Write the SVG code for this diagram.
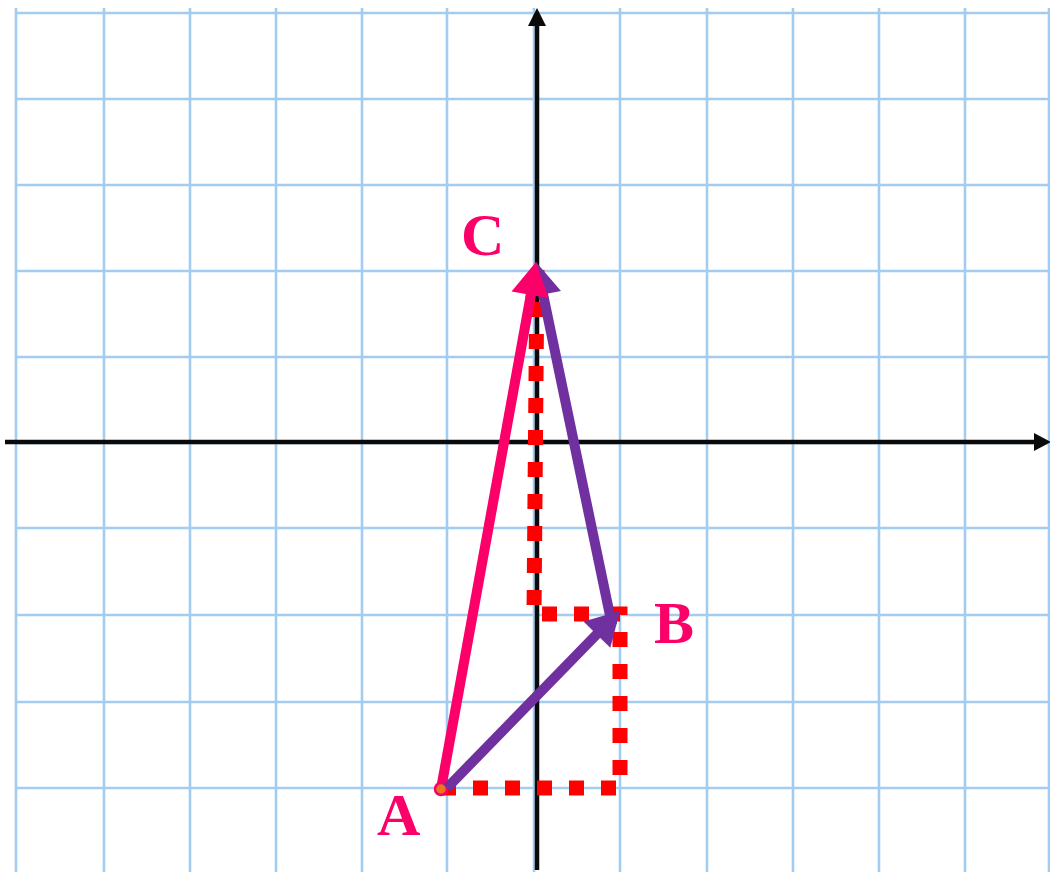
<svg xmlns="http://www.w3.org/2000/svg" width="1050" height="872" viewBox="0 0 1050 872">
  <style>
    .grid line { stroke: #a3ccf1; stroke-width: 2.6; }
    .axis { stroke: #0a0a0a; stroke-width: 4.5; fill: none; }
    .axhead { fill: #0a0a0a; }
    .dots { stroke: #ff0000; stroke-width: 15; fill: none; stroke-dasharray: 15 17; stroke-linecap: butt; stroke-linejoin: miter; }
    .pink { stroke: #fc006a; stroke-width: 10; fill: none; }
    .pinkhead { fill: #fc006a; }
    .purple { stroke: #7030a0; stroke-width: 10; fill: none; }
    .purplehead { fill: #7030a0; }
    .label { font-family: "Liberation Serif", "Times New Roman", serif; font-weight: bold; font-size: 60px; fill: #fc006a; }
  </style>
  <rect x="0" y="0" width="1050" height="872" fill="#ffffff"/>
  <g id="grid" class="grid">
    <line x1="16" y1="8" x2="16" y2="872"/>
    <line x1="104" y1="8" x2="104" y2="872"/>
    <line x1="190" y1="8" x2="190" y2="872"/>
    <line x1="276" y1="8" x2="276" y2="872"/>
    <line x1="362" y1="8" x2="362" y2="872"/>
    <line x1="447" y1="8" x2="447" y2="872"/>
    <line x1="534" y1="8" x2="534" y2="872"/>
    <line x1="620" y1="8" x2="620" y2="872"/>
    <line x1="707" y1="8" x2="707" y2="872"/>
    <line x1="793" y1="8" x2="793" y2="872"/>
    <line x1="879" y1="8" x2="879" y2="872"/>
    <line x1="965" y1="8" x2="965" y2="872"/>
    <line x1="1049" y1="8" x2="1049" y2="872"/>
    <line x1="16" y1="13" x2="1050" y2="13"/>
    <line x1="16" y1="99" x2="1050" y2="99"/>
    <line x1="16" y1="185" x2="1050" y2="185"/>
    <line x1="16" y1="271" x2="1050" y2="271"/>
    <line x1="16" y1="357" x2="1050" y2="357"/>
    <line x1="16" y1="443" x2="1050" y2="443"/>
    <line x1="16" y1="528" x2="1050" y2="528"/>
    <line x1="16" y1="615" x2="1050" y2="615"/>
    <line x1="16" y1="702" x2="1050" y2="702"/>
    <line x1="16" y1="788" x2="1050" y2="788"/>
  </g>
  <g id="axes">
    <line class="axis" x1="537" y1="870" x2="537" y2="22"/>
    <polygon class="axhead" points="537,8 528,26 546,26"/>
    <line class="axis" x1="5" y1="442" x2="1037" y2="442"/>
    <polygon class="axhead" points="1051,442 1034,433 1034,451"/>
  </g>
  <g id="connectors">
    <path id="dotted-path" class="dots" d="M441,788 H620 V614 H534 L537,262"/>
    <g id="vector-BC">
      <line class="purple" x1="612" y1="625" x2="543" y2="294"/>
      <polygon class="purplehead" points="536,262 561,291 525,298"/>
    </g>
    <g id="vector-AC">
      <line class="pink" x1="441" y1="789" x2="531" y2="294"/>
      <polygon class="pinkhead" points="536,262 548.5,298 511.5,291.5"/>
      <circle cx="441" cy="789" r="6" fill="#e8781e" stroke="#fc006a" stroke-width="2.5"/>
    </g>
    <g id="vector-AB">
      <line class="purple" x1="447" y1="788" x2="598" y2="633"/>
      <polygon class="purplehead" points="620,611 610.3,647.7 583.5,621.5"/>
    </g>
  </g>
  <g id="node-A">
    <text class="label" x="377" y="835">A</text>
  </g>
  <g id="node-B">
    <text class="label" x="654" y="643">B</text>
  </g>
  <g id="node-C">
    <text class="label" x="461" y="255">C</text>
  </g>
</svg>
